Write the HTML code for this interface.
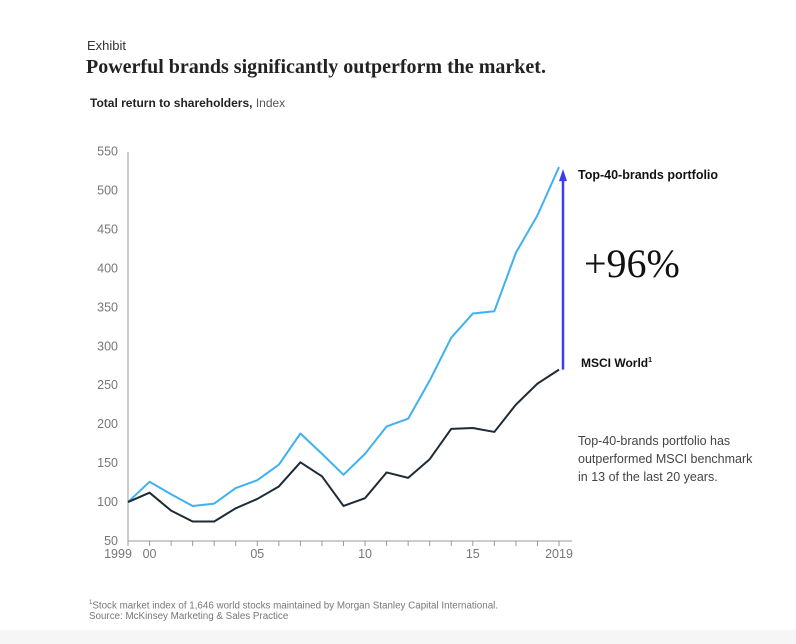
<!DOCTYPE html>
<html><head><meta charset="utf-8"><style>
body{margin:0;width:796px;height:644px;background:#fff;overflow:hidden;font-family:"Liberation Sans",sans-serif;position:relative}
.t{position:absolute;white-space:nowrap}
</style></head><body>
<div class="t" style="left:87px;top:38px;font-size:13px;color:#333">Exhibit</div>
<div class="t" style="left:86px;top:56px;font-family:'Liberation Serif',serif;font-weight:bold;font-size:20px;color:#222">Powerful brands significantly outperform the market.</div>
<div class="t" style="left:90px;top:96px;font-size:12px;color:#222"><b>Total return to shareholders,</b> <span style="color:#555">Index</span></div>
<svg id="chart" width="796" height="644" style="position:absolute;left:0;top:0"></svg>
<div class="t" style="left:578px;top:168px;font-size:12.5px;font-weight:bold;color:#111">Top-40-brands portfolio</div>
<div class="t" style="left:584px;top:240px;font-family:'Liberation Serif',serif;font-size:40px;color:#111">+96%</div>
<div class="t" style="left:581px;top:356px;font-size:12px;font-weight:bold;color:#111">MSCI World<sup style="font-size:7px">1</sup></div>
<div class="t" style="left:578px;top:432px;font-size:12.5px;line-height:18px;color:#444">Top-40-brands portfolio has<br>outperformed MSCI benchmark<br>in 13 of the last 20 years.</div>
<div class="t" style="left:89px;top:598px;font-size:9.8px;line-height:11px;color:#777"><sup style="font-size:6px">1</sup>Stock market index of 1,646 world stocks maintained by Morgan Stanley Capital International.<br>Source: McKinsey Marketing &amp; Sales Practice</div>
<div style="position:absolute;left:0;top:630px;width:796px;height:14px;background:#f6f6f6"></div>
<script>
const years=[1999,2000,2001,2002,2003,2004,2005,2006,2007,2008,2009,2010,2011,2012,2013,2014,2015,2016,2017,2018,2019];
const top40=[100,126,110,95,98,118,128,148,188,162,135,162,197,207,256,311,342,345,420,468,530];
const msci=[100,112,89,75,75,92,104,120,151,133,95,105,138,131,155,194,195,190,225,252,270];
const yTicks=[50,100,150,200,250,300,350,400,450,500,550];
const xLabels=[[1999,"1999"],[2000,"00"],[2005,"05"],[2010,"10"],[2015,"15"],[2019,"2019"]];
const NS="http://www.w3.org/2000/svg";
const svg=document.getElementById('chart');
const x=v=>128+(v-1999)*21.55;
const y=v=>541-(v-50)*0.779;
function mk(t,a){const e=document.createElementNS(NS,t);for(const k in a)e.setAttribute(k,a[k]);svg.appendChild(e);return e;}
let e;
e=mk('line',{x1:128,y1:152,x2:128,y2:541,stroke:'#999','stroke-width':1});


e=mk('line',{x1:128,y1:541,x2:572,y2:541,stroke:'#999','stroke-width':1});


yTicks.forEach(v=>{
 e=mk('text',{x:118,y:y(v)+4,'text-anchor':'end','font-size':12.5,fill:'#777','font-family':'Liberation Sans, sans-serif'});
 e.textContent=v;
 
 
});
years.forEach(v=>{
 e=mk('line',{x1:x(v),y1:541,x2:x(v),y2:546,stroke:'#999'});
 
 
});
xLabels.forEach(([v,s])=>{
 e=mk('text',{x:x(v)+(v===1999?-10:0),y:558,'text-anchor':'middle','font-size':12.5,fill:'#777','font-family':'Liberation Sans, sans-serif'});
 e.textContent=s;
 
 
});
function line(d,c,n){
 e=mk('polyline',{points:d.map((v,i)=>x(years[i])+','+y(v)).join(' '),fill:'none',stroke:c,'stroke-width':2,'stroke-linejoin':'round'});
 
 
}
line(top40,'#3fb1f2','top40-line');
line(msci,'#1d2b36','msci-line');
const ax=x(2019)+4;
e=mk('line',{x1:ax,y1:y(msci[msci.length-1]),x2:ax,y2:y(top40[top40.length-1])+10,stroke:'#3b3cf0','stroke-width':2.5});


const ty=y(top40[top40.length-1])+2;
e=mk('polygon',{points:`${ax-4},${ty+12} ${ax+4},${ty+12} ${ax},${ty}`,fill:'#3b3cf0'});


</script>
</body></html>
